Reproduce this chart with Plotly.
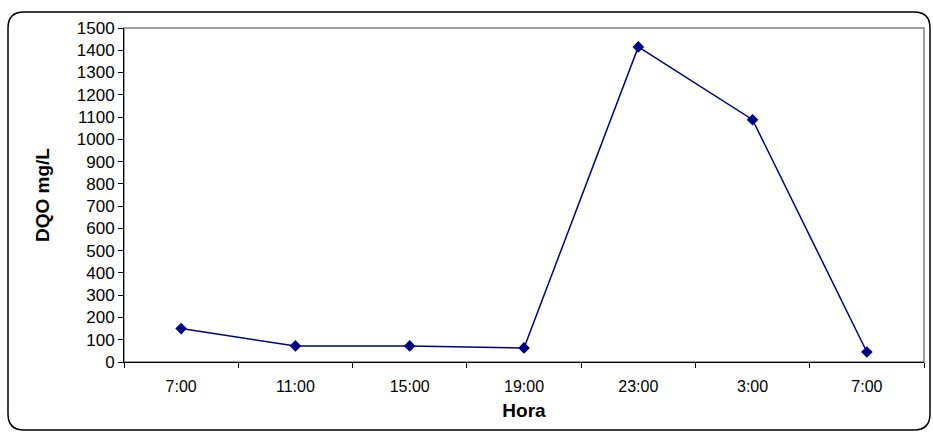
import plotly.graph_objects as go

# Sampling times and measured COD (DQO) concentrations
horas = ["7:00", "11:00", "15:00", "19:00", "23:00", "3:00", "7:00"]
dqo = [150, 72, 72, 63, 1415, 1088, 45]
y_ticks = list(range(0, 1501, 100))

W, H = 933, 432
L, R, T, B = 124, 9, 28, 70
pw, ph = W - L - R, H - T - B


def px(x):
    return (x - L) / pw


def py(y):
    return (H - B - y) / ph


def rounded_box(x0, y0, x1, y1, r):
    pts = [
        f"M {px(x0 + r)},{py(y0)}",
        f"L {px(x1 - r)},{py(y0)}",
        f"Q {px(x1)},{py(y0)} {px(x1)},{py(y0 + r)}",
        f"L {px(x1)},{py(y1 - r)}",
        f"Q {px(x1)},{py(y1)} {px(x1 - r)},{py(y1)}",
        f"L {px(x0 + r)},{py(y1)}",
        f"Q {px(x0)},{py(y1)} {px(x0)},{py(y1 - r)}",
        f"L {px(x0)},{py(y0 + r)}",
        f"Q {px(x0)},{py(y0)} {px(x0 + r)},{py(y0)}",
        "Z",
    ]
    return " ".join(pts)


xs = list(range(len(horas)))

fig = go.Figure(
    go.Scatter(
        x=xs,
        y=dqo,
        mode="lines+markers",
        line=dict(color="#000080", width=1.5),
        marker=dict(symbol="diamond", size=9, color="#000080"),
        cliponaxis=False,
        hoverinfo="skip",
    )
)

font = dict(family="Liberation Sans, Arial, sans-serif", color="black")

fig.update_layout(
    width=W,
    height=H,
    margin=dict(l=L, r=R, t=T, b=B),
    paper_bgcolor="white",
    plot_bgcolor="white",
    showlegend=False,
    font=dict(**font, size=16),
    xaxis=dict(
        range=[-0.5, len(horas) - 0.5],
        tickmode="array",
        tickvals=xs,
        ticktext=horas,
        ticks="",
        ticklabelstandoff=10,
        showgrid=False,
        zeroline=False,
        showline=True,
        linecolor="black",
        linewidth=1,
        tickfont=dict(size=16),
        minor=dict(
            tickmode="linear",
            tick0=-0.5,
            dtick=1,
            ticks="outside",
            ticklen=5,
            tickcolor="black",
            showgrid=False,
        ),
        title=dict(text="<b>Hora</b>", font=dict(size=19), standoff=9),
    ),
    yaxis=dict(
        range=[0, 1500],
        tickmode="array",
        tickvals=y_ticks,
        ticks="outside",
        ticklen=5,
        tickcolor="black",
        showgrid=False,
        zeroline=False,
        showline=True,
        linecolor="black",
        linewidth=1,
        tickfont=dict(size=17),
        title=dict(text="<b>DQO mg/L</b>", font=dict(size=19), standoff=22),
    ),
    shapes=[
        dict(
            type="rect",
            xref="paper",
            yref="paper",
            x0=0,
            y0=0,
            x1=1,
            y1=1,
            line=dict(color="#808080", width=1.5),
            layer="below",
        ),
        dict(
            type="path",
            xref="paper",
            yref="paper",
            path=rounded_box(8, 12, 930, 430, 16),
            line=dict(color="black", width=1.5),
            layer="below",
        ),
    ],
)

fig.write_html("out.html")
